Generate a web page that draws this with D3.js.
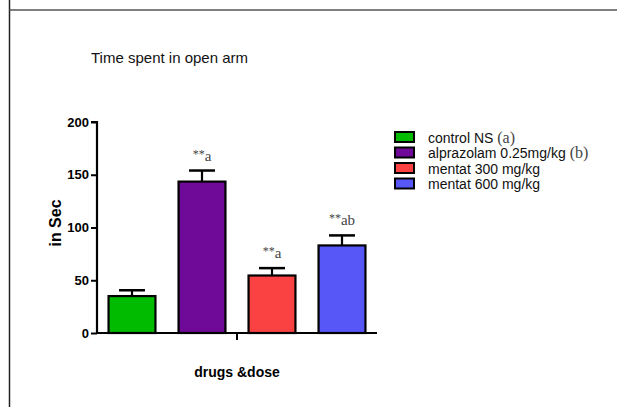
<!DOCTYPE html>
<html>
<head>
<meta charset="utf-8">
<script src="https://cdn.jsdelivr.net/npm/d3@7"></script>
<style>
  body { margin: 0; background: #fff; }
  svg { display: block; }
</style>
</head>
<body>
<div id="chart-area"></div>
<script>
const groups = ['control NS', 'alprazolam 0.25mg/kg', 'mentat 300 mg/kg', 'mentat 600 mg/kg'];
const groupTags = ['(a)', '(b)', '', ''];
const means = [35, 143.5, 54.5, 83];
const errors = [5.5, 10.5, 7, 9.5];
const marks = ['', 'a', 'a', 'ab'];
const colors = ['#00bb00', '#6f0a98', '#fb4242', '#5757f8'];
const yTicks = [0, 50, 100, 150, 200];

const width = 617, height = 407;

const svg = d3.select('#chart-area').append('svg')
    .attr('width', width)
    .attr('height', height);

// frame lines of the original figure panel
svg.append('line')
    .attr('x1', 9.5).attr('x2', 9.5).attr('y1', 0).attr('y2', height)
    .attr('stroke', '#222').attr('stroke-width', 1.5);
svg.append('line')
    .attr('x1', 9.5).attr('x2', width).attr('y1', 10).attr('y2', 10)
    .attr('stroke', '#555').attr('stroke-width', 1.5);

svg.append('text')
    .attr('x', 91).attr('y', 63)
    .attr('font-family', 'Liberation Sans, Arial, sans-serif')
    .attr('font-size', 15)
    .attr('fill', '#111')
    .text('Time spent in open arm');

const x = d3.scaleBand()
    .domain(groups)
    .range([97, 377])
    .paddingInner(0.33)
    .paddingOuter(0.165);

const y = d3.scaleLinear()
    .domain([0, 200])
    .range([333, 122]);

const g = svg.append('g');

// bars
g.selectAll('rect.bar')
    .data(groups)
    .join('rect')
    .attr('class', 'bar')
    .attr('x', d => x(d))
    .attr('y', (d, i) => y(means[i]))
    .attr('width', x.bandwidth())
    .attr('height', (d, i) => y(0) - y(means[i]))
    .attr('fill', (d, i) => colors[i])
    .attr('stroke', '#000')
    .attr('stroke-width', 2.2);

// error bars (upper only)
groups.forEach((d, i) => {
    const cx = x(d) + x.bandwidth() / 2;
    g.append('line')
        .attr('x1', cx).attr('x2', cx)
        .attr('y1', y(means[i])).attr('y2', y(means[i] + errors[i]))
        .attr('stroke', '#000').attr('stroke-width', 2.2);
    g.append('line')
        .attr('x1', cx - 13).attr('x2', cx + 13)
        .attr('y1', y(means[i] + errors[i])).attr('y2', y(means[i] + errors[i]))
        .attr('stroke', '#000').attr('stroke-width', 2.5);
    if (marks[i]) {
        const t = g.append('text')
            .attr('x', cx)
            .attr('y', y(means[i] + errors[i]) - 10)
            .attr('text-anchor', 'middle')
            .attr('font-family', 'Liberation Serif, Times New Roman, serif')
            .attr('fill', '#444');
        t.append('tspan')
            .attr('font-size', 12)
            .attr('dy', -3)
            .text('**');
        t.append('tspan')
            .attr('font-size', 15)
            .attr('dy', 3)
            .text(marks[i]);
    }
});

// axes
const yAxis = d3.axisLeft(y).tickValues(yTicks).tickSize(6).tickPadding(2);
const yG = g.append('g').attr('transform', 'translate(97,0)').call(yAxis);
yG.select('.domain').attr('stroke-width', 2.2).attr('d', `M-6,${y(200)}H0V${y(0)}`);
yG.selectAll('.tick line').attr('stroke-width', 2);
yG.selectAll('.tick text')
    .attr('font-family', 'Liberation Sans, Arial, sans-serif')
    .attr('font-weight', 'bold')
    .attr('font-size', 13)
    .attr('fill', '#000');

const xG = g.append('g').attr('transform', `translate(0,${y(0)})`);
xG.append('line')
    .attr('x1', 97).attr('x2', 377)
    .attr('stroke', '#000').attr('stroke-width', 2.2);
xG.append('line')
    .attr('x1', 237).attr('x2', 237).attr('y1', 0).attr('y2', 7)
    .attr('stroke', '#000').attr('stroke-width', 2);

svg.append('text')
    .attr('transform', 'translate(61,223) rotate(-90)')
    .attr('text-anchor', 'middle')
    .attr('font-family', 'Liberation Sans, Arial, sans-serif')
    .attr('font-weight', 'bold')
    .attr('font-size', 16)
    .text('in Sec');

svg.append('text')
    .attr('x', 237).attr('y', 377)
    .attr('text-anchor', 'middle')
    .attr('font-family', 'Liberation Sans, Arial, sans-serif')
    .attr('font-weight', 'bold')
    .attr('font-size', 14)
    .text('drugs &dose');

// legend
const legend = svg.append('g').attr('transform', 'translate(395,132)');
groups.forEach((d, i) => {
    const row = legend.append('g').attr('transform', `translate(0,${i * 15.5})`);
    row.append('rect')
        .attr('x', 0).attr('y', 0).attr('width', 19).attr('height', 10)
        .attr('fill', colors[i]).attr('stroke', '#000').attr('stroke-width', 2);
    const t = row.append('text')
        .attr('x', 33).attr('y', 10.5)
        .attr('font-family', 'Liberation Sans, Arial, sans-serif')
        .attr('font-size', 14)
        .attr('fill', '#111')
        .text(d + ' ');
    if (groupTags[i]) {
        t.append('tspan')
            .attr('font-family', 'Liberation Serif, Times New Roman, serif')
            .attr('font-size', 16)
            .attr('fill', '#444')
            .text(groupTags[i]);
    }
});
</script>
</body>
</html>
